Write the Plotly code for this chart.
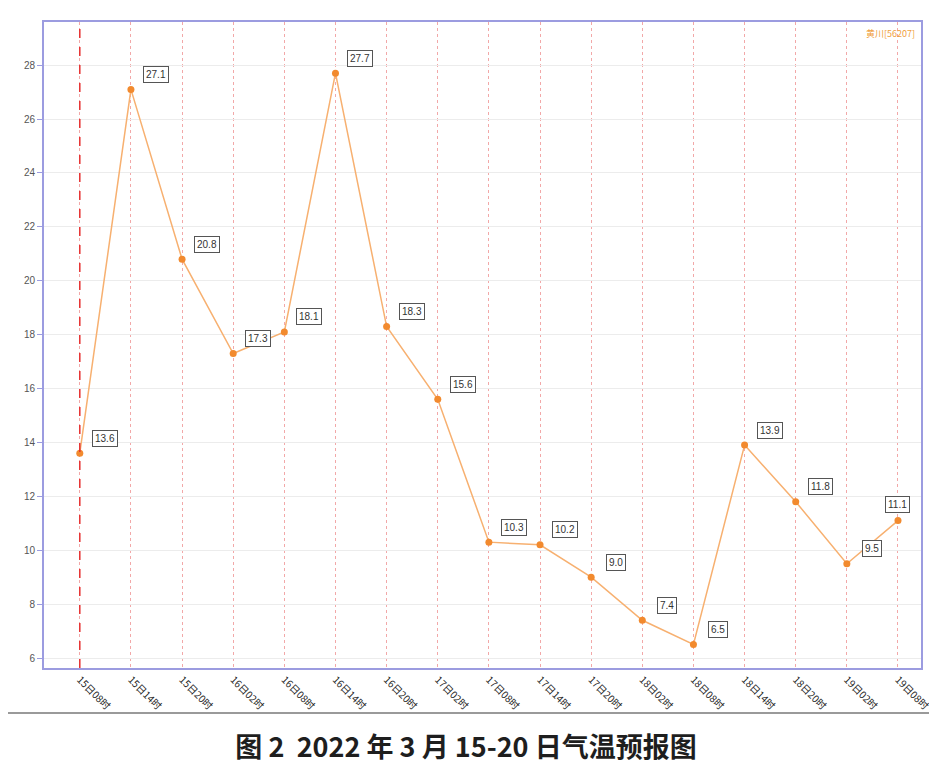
import plotly.graph_objects as go

categories = ["15日08时", "15日14时", "15日20时", "16日02时", "16日08时", "16日14时",
              "16日20时", "17日02时", "17日08时", "17日14时", "17日20时", "18日02时",
              "18日08时", "18日14时", "18日20时", "19日02时", "19日08时"]
temperature = [13.6, 27.1, 20.8, 17.3, 18.1, 27.7, 18.3, 15.6, 10.3, 10.2, 9.0, 7.4,
               6.5, 13.9, 11.8, 9.5, 11.1]
y_ticks = [6, 8, 10, 12, 14, 16, 18, 20, 22, 24, 26, 28]
title_text = "图 2  2022 年 3 月 15-20 日气温预报图"
station_text = "黄川[56207]"

W, H = 937, 780
ml, mr, mt, mb = 36, 24, 14, 120
plot_h = H - mt - mb
plot_w = W - ml - mr

fig = go.Figure()
fig.add_trace(go.Scatter(
    x=categories, y=temperature, mode="lines+markers",
    line=dict(color="#f7b070", width=1.5),
    marker=dict(color="#f28a2e", size=7),
    showlegend=False, hoverinfo="x+y",
))

annotations = []
n = len(categories)
for i, (c, v) in enumerate(zip(categories, temperature)):
    last = i == n - 1
    annotations.append(dict(
        x=c, y=v, xref="x", yref="y", text=f"{v:.1f}", showarrow=False,
        xshift=0 if last else 25, yshift=16 if last else 15,
        font=dict(size=10, color="#333", family="Liberation Sans"),
        bgcolor="white", bordercolor="#555", borderwidth=1, borderpad=2,
    ))
annotations.append(dict(
    x=1, y=1, xref="paper", yref="paper", text=station_text, showarrow=False,
    xanchor="right", yanchor="top", xshift=-4, yshift=-3,
    font=dict(size=9, color="#f0a040", family="Noto Sans CJK SC"),
))

line_y = -(705 - (H - mb)) / plot_h
shapes = [
    dict(type="line", xref="x", yref="paper", x0=categories[0], x1=categories[0],
         y0=0, y1=1, line=dict(color="#e53030", width=1.5, dash="dash"), layer="above"),
    dict(type="line", xref="paper", yref="paper", x0=-ml / plot_w, x1=1 + mr / plot_w,
         y0=line_y, y1=line_y, line=dict(color="#9a9a9a", width=2)),
]

fig.update_layout(
    width=W, height=H,
    margin=dict(l=ml, r=mr, t=mt, b=mb),
    paper_bgcolor="white", plot_bgcolor="white",
    annotations=annotations, shapes=shapes,
    title=dict(text=title_text, x=458 / W, xanchor="center", y=1 - 740 / H,
               yanchor="middle", yref="container",
               font=dict(size=27, color="#1e1e1e", family="Noto Sans CJK SC", weight="bold")),
    font=dict(family="Liberation Sans"),
)
fig.update_xaxes(
    type="category", range=[-0.7, 16.45], automargin=False,
    showgrid=True, gridcolor="#f2a8a8", griddash="dot", gridwidth=1,
    tickangle=45, tickfont=dict(size=10, color="#222", family="Noto Sans CJK SC"),
    showline=True, linecolor="#9c9ce0", linewidth=2, mirror=True,
    ticks="", zeroline=False,
)
fig.update_yaxes(
    range=[5.63, 29.6], tickvals=y_ticks, automargin=False,
    showgrid=True, gridcolor="#ececec", gridwidth=1,
    tickfont=dict(size=10, color="#555"), ticks="outside", ticklen=5, tickcolor="#9c9ce0",
    showline=True, linecolor="#9c9ce0", linewidth=2, mirror=True, zeroline=False,
)

fig.write_html("out.html")
